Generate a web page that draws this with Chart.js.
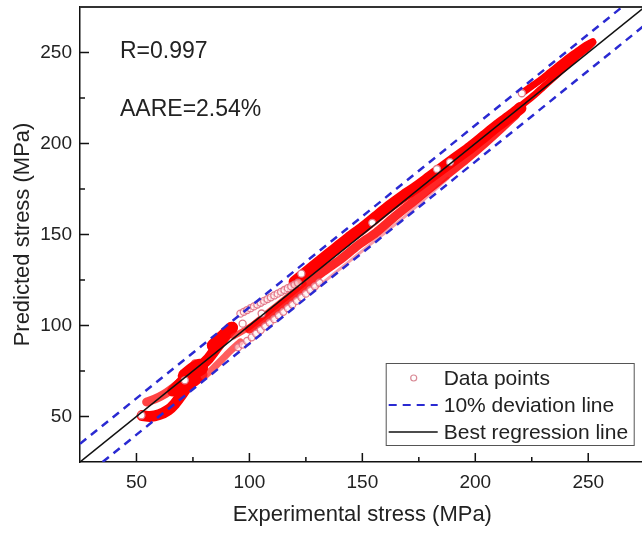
<!DOCTYPE html>
<html>
<head>
<meta charset="utf-8">
<script src="https://cdn.jsdelivr.net/npm/chart.js@4.4.1/dist/chart.umd.min.js"></script>
<style>
  html, body { margin: 0; padding: 0; overflow: hidden; background: #fff; }
  #wrap { width: 650px; height: 533px; }
</style>
</head>
<body>
<div id="wrap"><canvas id="c"></canvas></div>
<script>
// axis ticks
const majorTicks = [50, 100, 150, 200, 250];
const minorTicks = [75, 125, 175, 225];

// reference lines
const lineX = [25, 275];
const regY = [25, 275];
const upperDevX = [25, 265];
const upperDevY = [35, 275];
const lowerDevX = [35, 275];
const lowerDevY = [25, 265];

// data point bands
const lowLowerX = [52.5, 56, 60, 64, 67, 70, 73, 76, 79];
const lowLowerY = [50.5, 50, 51, 53.5, 57, 62, 67, 70, 73];
const lowUpperX = [54.5, 58, 62, 66, 70, 73, 76];
const lowUpperY = [58, 59.5, 62, 65.5, 69.5, 74, 79];
const lowMidX = [66, 70, 73, 76, 79, 82, 85, 88, 91, 92.5];
const lowMidY = [64, 69, 73, 76, 78.5, 82, 87, 92, 97, 99];
const bulgeX = [72, 75, 78];
const bulgeY = [72, 75, 77];
const blobX = [84, 87, 90, 92];
const blobY = [89, 92.5, 96, 98.5];
const lowRightX = [80, 84, 88, 92, 96];
const lowRightY = [72, 76.5, 81.5, 86.5, 91];

const pinkUpperX = [96, 97.5, 99, 100.5, 102, 103.5, 105, 106.5, 108, 109.5, 111, 112.5, 114, 115.5, 117, 118.5, 120, 121.5];
const pinkUpperY = [106.5, 107.5, 108.5, 109.5, 110.5, 111.5, 112.5, 113.5, 114.5, 115.5, 116.5, 117.5, 118.5, 119.5, 120.5, 121.5, 122.5, 123.5];
const pinkLowerX = [95, 97, 99, 101, 103, 105, 107, 109, 111, 113, 115, 117, 119, 121, 123, 125, 127, 129, 131];
const pinkLowerY = [88, 89.5, 91.5, 93.5, 95.5, 97.5, 99.5, 101.5, 103.5, 105.5, 107.5, 109.5, 111.5, 113.5, 115.5, 117.5, 119.5, 121.5, 123.5];

const midX = [93, 100, 106, 112, 118, 124];
const midY = [94, 99, 105, 111, 117, 123];

const mainUpperX = [120, 126, 132, 138, 144, 150, 156, 162, 168, 174, 180, 186, 192, 198, 204, 210, 216, 220];
const mainUpperY = [124, 130, 136, 142, 148, 153.5, 159.5, 165.5, 171, 176, 181.5, 187, 192.5, 198, 204, 210, 215.5, 219.5];
const mainLowerX = [100, 108, 116, 124, 132, 140, 148, 156, 164, 172, 180, 188, 196, 204, 212, 218];
const mainLowerY = [98, 105, 113, 121, 129, 136, 144, 151, 159.5, 167.5, 175.5, 183.5, 191.5, 200, 209, 216];
const lowFaintX = [128, 138, 148, 158, 168, 178, 188];
const lowFaintY = [119, 129, 139, 149, 159, 170, 181];

const topUpperX = [221, 225, 229, 233, 237, 241, 245, 249, 252];
const topUpperY = [228, 231.5, 235, 239, 243, 247, 250.5, 254, 256];
const topLowerX = [219, 222, 226, 230, 234, 238, 242, 246, 250, 252];
const topLowerY = [219.5, 222.5, 226.5, 231, 235.5, 240, 244.5, 249, 253, 255.5];

const openMarkX = [52.2, 71.4, 97, 105.4, 123, 154.4, 183, 188.8, 220.6];
const openMarkY = [50.7, 69.9, 101, 106.6, 128.5, 156.4, 186, 189.8, 227.6];

const legendLabels = ['Data points', '10% deviation line', 'Best regression line'];
const noteLines = ['R=0.997', 'AARE=2.54%'];

const FONT = "'Liberation Sans', Arial, sans-serif";
const RED = '#ff0000';
const BLUE = '#2a2ad2';

function pts(xs, ys) {
    return xs.map((x, i) => ({x: x, y: ys[i]}));
}

function band(xs, ys, width, color) {
    return {
        data: pts(xs, ys),
        showLine: true,
        borderColor: color,
        borderWidth: width,
        borderCapStyle: 'round',
        borderJoinStyle: 'round',
        tension: 0.25,
        pointRadius: 0
    };
}

function refLine(xs, ys, color, width, dash) {
    return {
        data: pts(xs, ys),
        showLine: true,
        borderColor: color,
        borderWidth: width,
        borderDash: dash,
        pointRadius: 0
    };
}

function circles(xs, ys, border, fill) {
    return {
        data: pts(xs, ys),
        pointRadius: 3.5,
        pointBorderWidth: 1.3,
        pointBorderColor: border,
        pointBackgroundColor: fill
    };
}

const datasets = [
    refLine(lineX, regY, '#111', 1.5, []),
    refLine(upperDevX, upperDevY, BLUE, 2.5, [8, 6]),
    refLine(lowerDevX, lowerDevY, BLUE, 2.5, [8, 6]),
    circles(openMarkX, openMarkY, '#e07a8a', '#fff'),
    circles(pinkUpperX, pinkUpperY, 'rgba(225,110,130,0.9)', 'rgba(255,240,240,0.6)'),
    circles(pinkLowerX, pinkLowerY, 'rgba(225,110,130,0.9)', 'rgba(255,240,240,0.6)'),
    band(topUpperX, topUpperY, 7, RED),
    band(topLowerX, topLowerY, 7, RED),
    band(mainUpperX, mainUpperY, 12, RED),
    band(mainLowerX, mainLowerY, 9, 'rgba(255,0,0,0.85)'),
    band(lowFaintX, lowFaintY, 3, 'rgba(240,80,100,0.55)'),
    band(midX, midY, 6, 'rgba(255,30,30,0.8)'),
    band(blobX, blobY, 13, RED),
    band(bulgeX, bulgeY, 17, RED),
    band(lowMidX, lowMidY, 11, RED),
    band(lowRightX, lowRightY, 7, 'rgba(255,40,40,0.75)'),
    band(lowLowerX, lowLowerY, 11, RED),
    band(lowUpperX, lowUpperY, 9, 'rgba(255,20,20,0.8)')
];

// inward ticks, top frame, notes and legend
const decorPlugin = {
    id: 'decor',
    afterDraw(chart) {
        const ctx = chart.ctx;
        const area = chart.chartArea;
        const xs = chart.scales.x;
        const ys = chart.scales.y;
        ctx.save();

        ctx.strokeStyle = '#111';
        ctx.lineWidth = 1.5;
        ctx.beginPath();
        majorTicks.forEach(v => {
            const px = xs.getPixelForValue(v);
            ctx.moveTo(px, area.bottom);
            ctx.lineTo(px, area.bottom - 9);
            const py = ys.getPixelForValue(v);
            ctx.moveTo(area.left, py);
            ctx.lineTo(area.left + 9, py);
        });
        minorTicks.forEach(v => {
            const px = xs.getPixelForValue(v);
            ctx.moveTo(px, area.bottom);
            ctx.lineTo(px, area.bottom - 5);
            const py = ys.getPixelForValue(v);
            ctx.moveTo(area.left, py);
            ctx.lineTo(area.left + 5, py);
        });
        ctx.stroke();

        // top frame
        ctx.strokeStyle = '#333';
        ctx.lineWidth = 2;
        ctx.beginPath();
        ctx.moveTo(area.left, area.top);
        ctx.lineTo(area.right, area.top);
        ctx.stroke();

        // notes
        ctx.fillStyle = '#222';
        ctx.font = '23px ' + FONT;
        ctx.textAlign = 'left';
        ctx.textBaseline = 'middle';
        ctx.fillText(noteLines[0], area.left + 40, area.top + 45);
        ctx.fillText(noteLines[1], area.left + 40, area.top + 103);

        // legend
        const bw = 248, bh = 82;
        const bx = area.right - 11 - bw;
        const by = area.bottom - 17 - bh;
        ctx.fillStyle = '#fff';
        ctx.fillRect(bx, by, bw, bh);
        ctx.strokeStyle = '#555';
        ctx.lineWidth = 1;
        ctx.strokeRect(bx + 0.5, by + 0.5, bw, bh);

        const rowY = [by + 15, by + 42, by + 69];
        ctx.beginPath();
        ctx.arc(bx + 28, rowY[0], 3, 0, Math.PI * 2);
        ctx.strokeStyle = '#d98a96';
        ctx.lineWidth = 1.2;
        ctx.stroke();

        ctx.beginPath();
        ctx.setLineDash([8, 6]);
        ctx.strokeStyle = BLUE;
        ctx.lineWidth = 2;
        ctx.moveTo(bx + 3, rowY[1]);
        ctx.lineTo(bx + 52, rowY[1]);
        ctx.stroke();
        ctx.setLineDash([]);

        ctx.beginPath();
        ctx.strokeStyle = '#111';
        ctx.lineWidth = 1.5;
        ctx.moveTo(bx + 3, rowY[2]);
        ctx.lineTo(bx + 52, rowY[2]);
        ctx.stroke();

        ctx.fillStyle = '#222';
        ctx.font = '21px ' + FONT;
        legendLabels.forEach((t, i) => ctx.fillText(t, bx + 58, rowY[i] + 1));

        ctx.restore();
    }
};

function noEdgePad(s) {
    s.paddingTop = 0;
    s.paddingBottom = 0;
    s.paddingLeft = 0;
    s.paddingRight = 0;
}

new Chart(document.getElementById('c'), {
    type: 'scatter',
    data: {datasets: datasets},
    options: {
        responsive: true,
        maintainAspectRatio: false,
        animation: false,
        devicePixelRatio: 1,
        layout: {padding: {top: 7, right: 5, left: 0, bottom: 0}},
        plugins: {legend: {display: false}, tooltip: {enabled: false}},
        scales: {
            x: {
                type: 'linear',
                min: 25,
                max: 275,
                afterBuildTicks: s => { s.ticks = majorTicks.map(v => ({value: v})); },
                afterFit: s => { s.height = 71; noEdgePad(s); },
                grid: {display: false, drawTicks: false},
                border: {display: true, color: '#111', width: 1.5},
                ticks: {color: '#222', font: {family: FONT, size: 19}, padding: 9, maxRotation: 0, autoSkip: false},
                title: {display: true, text: 'Experimental stress (MPa)', color: '#222',
                        font: {family: FONT, size: 22}, padding: {top: 4, bottom: 5}}
            },
            y: {
                type: 'linear',
                min: 25,
                max: 275,
                afterBuildTicks: s => { s.ticks = majorTicks.map(v => ({value: v})); },
                afterFit: s => { s.width = 80; noEdgePad(s); },
                grid: {display: false, drawTicks: false},
                border: {display: true, color: '#111', width: 1.5},
                ticks: {color: '#222', font: {family: FONT, size: 19}, padding: 8, autoSkip: false},
                title: {display: true, text: 'Predicted stress (MPa)', color: '#222',
                        font: {family: FONT, size: 22}, padding: {top: 10, bottom: 0}}
            }
        }
    },
    plugins: [decorPlugin]
});
</script>
</body>
</html>
